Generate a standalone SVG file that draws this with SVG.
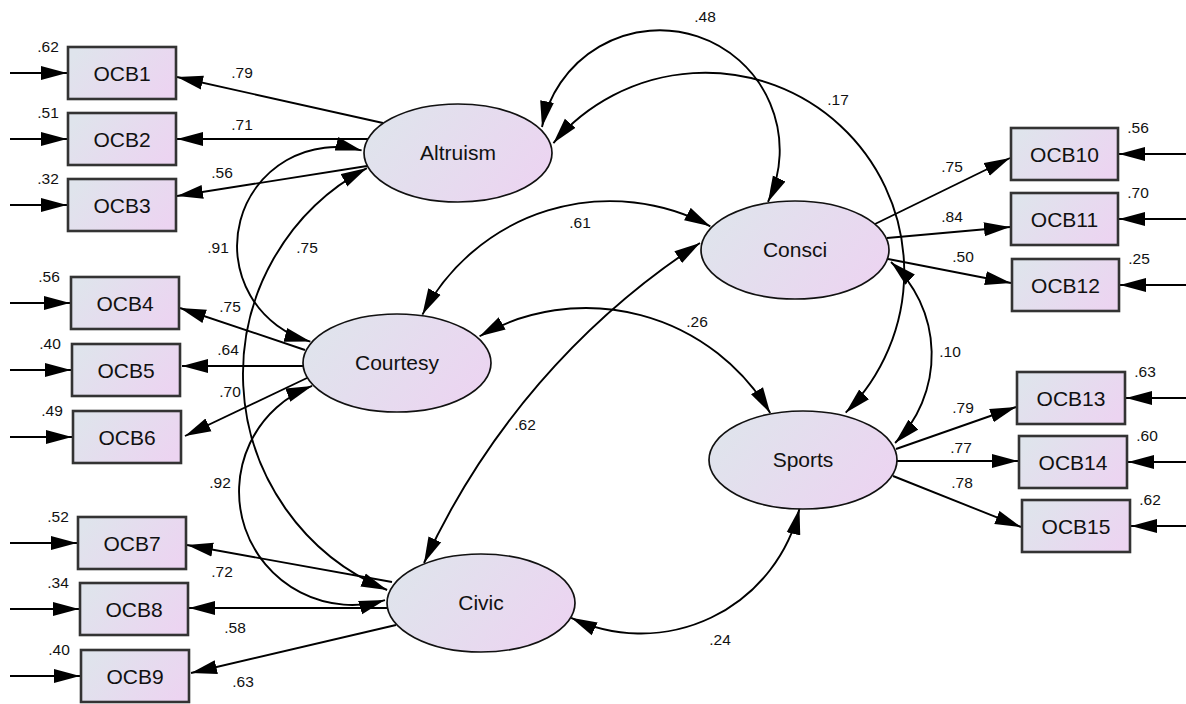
<svg xmlns="http://www.w3.org/2000/svg" width="1186" height="704" viewBox="0 0 1186 704">
  <defs>
    <linearGradient id="gFill" x1="0" y1="0.3" x2="1" y2="0.7">
      <stop offset="0" stop-color="#dfe4ec"/>
      <stop offset="1" stop-color="#ecd4f1"/>
    </linearGradient>
    <marker id="ah" markerUnits="userSpaceOnUse" markerWidth="27" markerHeight="15" refX="26" refY="7" orient="auto-start-reverse" viewBox="0 0 27 14">
      <path d="M0,0 L26,7 L0,14 Z" fill="#000"/>
    </marker>
    <style>
      .box { fill: url(#gFill); stroke: #333; stroke-width: 2.6; }
      .lv { fill: url(#gFill); stroke: #111; stroke-width: 1.7; }
      .name { font-family: "Liberation Sans", Arial, sans-serif; font-size: 21px; text-anchor: middle; fill: #111; }
      .num { font-family: "Liberation Sans", Arial, sans-serif; font-size: 15.5px; text-anchor: middle; fill: #111; }
      .one { fill: none; stroke: #000; stroke-width: 1.9; marker-end: url(#ah); }
      .two { fill: none; stroke: #000; stroke-width: 1.9; marker-start: url(#ah); marker-end: url(#ah); }
    </style>
  </defs>

  <rect width="1186" height="704" fill="#fff"/>

  <!-- connectors: error terms, loadings, covariances -->
  <g id="connectors">
    <!-- error terms, left column -->
    <path class="one" d="M10,73 L67,73"/>
    <path class="one" d="M10,139 L67,139"/>
    <path class="one" d="M10,205 L67,205"/>
    <path class="one" d="M10,303 L70,303"/>
    <path class="one" d="M10,370 L71,370"/>
    <path class="one" d="M10,437 L72,437"/>
    <path class="one" d="M10,543 L77,543"/>
    <path class="one" d="M10,609 L79,609"/>
    <path class="one" d="M10,676 L80,676"/>
    <!-- error terms, right column -->
    <path class="one" d="M1186,154 L1119,154"/>
    <path class="one" d="M1186,219 L1119,219"/>
    <path class="one" d="M1186,285 L1120,285"/>
    <path class="one" d="M1186,398 L1126,398"/>
    <path class="one" d="M1186,462 L1128,462"/>
    <path class="one" d="M1186,526 L1131,526"/>

    <!-- factor loadings -->
    <path class="one" d="M383,123 L177,77"/>
    <path class="one" d="M368,139 L177,139"/>
    <path class="one" d="M367,166 L177,196"/>
    <path class="one" d="M305,350 L180,308"/>
    <path class="one" d="M303,366 L182,366"/>
    <path class="one" d="M307,378 L185,436"/>
    <path class="one" d="M392,582 L187,545"/>
    <path class="one" d="M387,608 L189,608"/>
    <path class="one" d="M396,625 L191,673"/>
    <path class="one" d="M875,224 L1010,158"/>
    <path class="one" d="M887,238 L1010,227"/>
    <path class="one" d="M888,259 L1011,283"/>
    <path class="one" d="M896,449 L1016,407"/>
    <path class="one" d="M897,461 L1018,461"/>
    <path class="one" d="M893,476 L1021,527"/>

    <!-- covariances between factors -->
    <path class="two" d="M542,127 A120,120 0 1 1 768,202"/>
    <path class="two" d="M553.4,143.1 A199,199 0 1 1 845.7,412.7"/>
    <path class="two" d="M361.6,150.4 A90,90 0 0 0 310.4,341.6"/>
    <path class="two" d="M366.9,168.1 A233.5,233.5 0 0 0 387.1,590"/>
    <path class="two" d="M312.1,385.9 A113.2,113.2 0 0 0 385,600.1"/>
    <path class="two" d="M422.4,314.6 A212,212 0 0 1 710.3,226.3"/>
    <path class="two" d="M479.6,336.3 A214,214 0 0 1 770.2,413.1"/>
    <path class="two" d="M700,243 A760,760 0 0 0 424,563"/>
    <path class="two" d="M891,262 A125.4,125.4 0 0 1 895.1,443"/>
    <path class="two" d="M571.2,617.8 A163,163 0 0 0 799.5,508.5"/>
  </g>

  <!-- connector values -->
  <g id="values">
    <text class="num" x="242" y="78">.79</text>
    <text class="num" x="242" y="130">.71</text>
    <text class="num" x="222" y="178">.56</text>
    <text class="num" x="230" y="312">.75</text>
    <text class="num" x="228" y="355">.64</text>
    <text class="num" x="230" y="397">.70</text>
    <text class="num" x="222" y="577">.72</text>
    <text class="num" x="235" y="633">.58</text>
    <text class="num" x="243" y="687">.63</text>
    <text class="num" x="952" y="172">.75</text>
    <text class="num" x="952" y="222">.84</text>
    <text class="num" x="963" y="262">.50</text>
    <text class="num" x="963" y="413">.79</text>
    <text class="num" x="961" y="453">.77</text>
    <text class="num" x="962" y="488">.78</text>
    <text class="num" x="705" y="22">.48</text>
    <text class="num" x="838" y="105">.17</text>
    <text class="num" x="218" y="253">.91</text>
    <text class="num" x="307" y="253">.75</text>
    <text class="num" x="220" y="488">.92</text>
    <text class="num" x="580" y="228">.61</text>
    <text class="num" x="697" y="327">.26</text>
    <text class="num" x="525" y="430">.62</text>
    <text class="num" x="950" y="357">.10</text>
    <text class="num" x="720" y="645">.24</text>
  </g>

  <!-- latent factors -->
  <g id="Altruism"><ellipse class="lv" cx="458" cy="153" rx="94" ry="49"/><text class="name" x="458" y="160">Altruism</text></g>
  <g id="Courtesy"><ellipse class="lv" cx="397" cy="363" rx="94" ry="49"/><text class="name" x="397" y="370">Courtesy</text></g>
  <g id="Consci"><ellipse class="lv" cx="795" cy="250" rx="94" ry="49"/><text class="name" x="795" y="257">Consci</text></g>
  <g id="Sports"><ellipse class="lv" cx="803" cy="460" rx="94" ry="49"/><text class="name" x="803" y="467">Sports</text></g>
  <g id="Civic"><ellipse class="lv" cx="481" cy="603" rx="94" ry="49"/><text class="name" x="481" y="610">Civic</text></g>

  <!-- observed items with error variances -->
  <g id="OCB1"><rect class="box" x="68" y="47" width="108" height="52"/><text class="name" x="122" y="81">OCB1</text><text class="num" x="48" y="52">.62</text></g>
  <g id="OCB2"><rect class="box" x="68" y="113" width="108" height="52"/><text class="name" x="122" y="147">OCB2</text><text class="num" x="48" y="118">.51</text></g>
  <g id="OCB3"><rect class="box" x="68" y="179" width="108" height="52"/><text class="name" x="122" y="213">OCB3</text><text class="num" x="48" y="184">.32</text></g>
  <g id="OCB4"><rect class="box" x="71" y="277" width="108" height="52"/><text class="name" x="125" y="311">OCB4</text><text class="num" x="49" y="282">.56</text></g>
  <g id="OCB5"><rect class="box" x="72" y="344" width="108" height="52"/><text class="name" x="126" y="378">OCB5</text><text class="num" x="50" y="349">.40</text></g>
  <g id="OCB6"><rect class="box" x="73" y="411" width="108" height="52"/><text class="name" x="127" y="445">OCB6</text><text class="num" x="52" y="416">.49</text></g>
  <g id="OCB7"><rect class="box" x="78" y="517" width="108" height="52"/><text class="name" x="132" y="551">OCB7</text><text class="num" x="58" y="522">.52</text></g>
  <g id="OCB8"><rect class="box" x="80" y="583" width="108" height="52"/><text class="name" x="134" y="617">OCB8</text><text class="num" x="58" y="588">.34</text></g>
  <g id="OCB9"><rect class="box" x="81" y="650" width="108" height="52"/><text class="name" x="135" y="684">OCB9</text><text class="num" x="59" y="655">.40</text></g>
  <g id="OCB10"><rect class="box" x="1011" y="128" width="107" height="52"/><text class="name" x="1064.5" y="162">OCB10</text><text class="num" x="1138" y="133">.56</text></g>
  <g id="OCB11"><rect class="box" x="1011" y="193" width="107" height="52"/><text class="name" x="1064.5" y="227">OCB11</text><text class="num" x="1138" y="198">.70</text></g>
  <g id="OCB12"><rect class="box" x="1012" y="259" width="107" height="52"/><text class="name" x="1065.5" y="293">OCB12</text><text class="num" x="1139" y="264">.25</text></g>
  <g id="OCB13"><rect class="box" x="1017" y="372" width="108" height="52"/><text class="name" x="1071" y="406">OCB13</text><text class="num" x="1145" y="377">.63</text></g>
  <g id="OCB14"><rect class="box" x="1019" y="436" width="108" height="52"/><text class="name" x="1073" y="470">OCB14</text><text class="num" x="1147" y="441">.60</text></g>
  <g id="OCB15"><rect class="box" x="1022" y="500" width="108" height="52"/><text class="name" x="1076" y="534">OCB15</text><text class="num" x="1150" y="505">.62</text></g>
</svg>
